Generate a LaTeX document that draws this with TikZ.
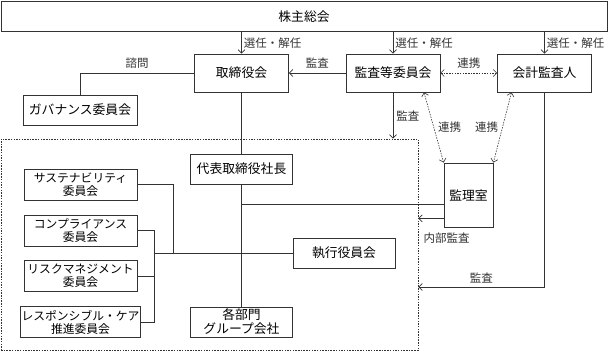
\documentclass[tikz,border=0pt]{standalone}
\usepackage{fontspec}
\setmainfont{Noto Sans CJK JP}
\usepackage{tikz}
\usetikzlibrary{arrows.meta, positioning, calc}

\begin{document}
\begin{tikzpicture}[x=1pt, y=-1pt,
  box/.style={draw=black!80, line width=0.7pt, fill=white, inner sep=1pt, align=center, font=\fontsize{12.8}{14}\selectfont},
  cbox/.style={box, minimum width=113pt, minimum height=31pt, font=\fontsize{11.8}{13}\selectfont},
  lbl/.style={font=\fontsize{11.5}{12}\selectfont, inner sep=1pt},
  wire/.style={black!80, line width=0.7pt},
  arr/.style={wire, -{Straight Barb[length=3.5pt, width=7pt]}},
  link/.style={black!80, line width=0.6pt, dash pattern=on 1.5pt off 1.2pt, {Straight Barb[length=3.5pt, width=7pt]}-{Straight Barb[length=3.5pt, width=7pt]}}]
\useasboundingbox (0,0) rectangle (609,352);
\node[draw=black!80, line width=0.6pt, dash pattern=on 1.5pt off 1.2pt, minimum width=417pt, minimum height=211.5pt, inner sep=0pt] (grp) at (209.5,244.75) {};
\node[box, minimum width=606pt, minimum height=30pt] (gm) at (304,16.5) {株主総会};
\node[box, minimum width=94pt, minimum height=38pt] (board) at (241.5,73) {取締役会};
\node[box, minimum width=94pt, minimum height=38pt] (auditcom) at (393,73) {監査等委員会};
\node[box, minimum width=94pt, minimum height=38pt] (accaud) at (544.5,73) {会計監査人};
\node[box, minimum width=114pt, minimum height=30pt] (gov) at (80,110) {ガバナンス委員会};
\node[box, minimum width=102pt, minimum height=30pt] (ceo) at (241.5,169) {代表取締役社長};
\node[cbox] (sus) at (80.5,184.5) {サステナビリティ\\委員会};
\node[cbox] (comp) at (80.5,230.5) {コンプライアンス\\委員会};
\node[cbox] (risk) at (80.5,276) {リスクマネジメント\\委員会};
\node[cbox] (resp) at (80.5,322) {レスポンシブル・ケア\\推進委員会};
\node[box, minimum width=102pt, minimum height=30pt] (div) at (241.5,322) {各部門\\グループ会社};
\node[box, minimum width=102pt, minimum height=30pt] (exec) at (344,253) {執行役員会};
\node[box, minimum width=49pt, minimum height=64pt] (ia) at (468.5,195) {監理室};
\coordinate (brk) at (154,253);
\coordinate (j1) at (241.5,204);
\coordinate (j2) at (173,253);

\draw[arr] (board.north |- gm.south) -- (board.north) node[lbl, midway, right, xshift=1pt] {選任・解任};
\draw[arr] (auditcom.north |- gm.south) -- (auditcom.north) node[lbl, midway, right, xshift=1pt] {選任・解任};
\draw[arr] (accaud.north |- gm.south) -- (accaud.north) node[lbl, midway, right, xshift=1pt] {選任・解任};
\draw[arr] (auditcom.west) -- (board.east) node[lbl, midway, above, yshift=3pt] {監査};
\draw[link] (auditcom.east) -- (accaud.west) node[lbl, midway, above, yshift=3pt] {連携};
\draw[wire] (board.west) -| (gov.north) node[lbl, pos=0.25, above, yshift=3pt] {諮問};
\draw[wire] (board.south) -- (ceo.north);
\draw[wire] (ceo.south) -- (div.north);
\draw[wire] (j1) -- (j1 -| ia.west);
\draw[wire] (brk) -- (exec.west);
\draw[wire] (sus.east) -| (j2);
\draw[wire] (comp.east) -| (brk);
\draw[wire] (risk.east) -- (risk.east -| brk);
\draw[wire] (resp.east) -| (brk);
\draw[arr] (auditcom.south) -- (auditcom.south |- grp.north) node[lbl, midway, right, xshift=2pt] {監査};
\draw[link] ([xshift=31pt]auditcom.south) -- (ia.north west) node[lbl, midway, right, xshift=3pt] {連携};
\draw[link] ([xshift=-33pt]accaud.south) -- (ia.north east) node[lbl, midway, left, xshift=-3pt] {連携};
\draw[arr] ([yshift=9pt]ia.south west) coordinate (ias) -- (ias -| grp.east) node[lbl, anchor=north west, xshift=4pt, yshift=-13pt] {内部監査};
\draw[arr] (accaud.south) |- (grp.east |- 0,287) node[lbl, pos=0.75, above, yshift=2pt] {監査};
\end{tikzpicture}
\end{document}
